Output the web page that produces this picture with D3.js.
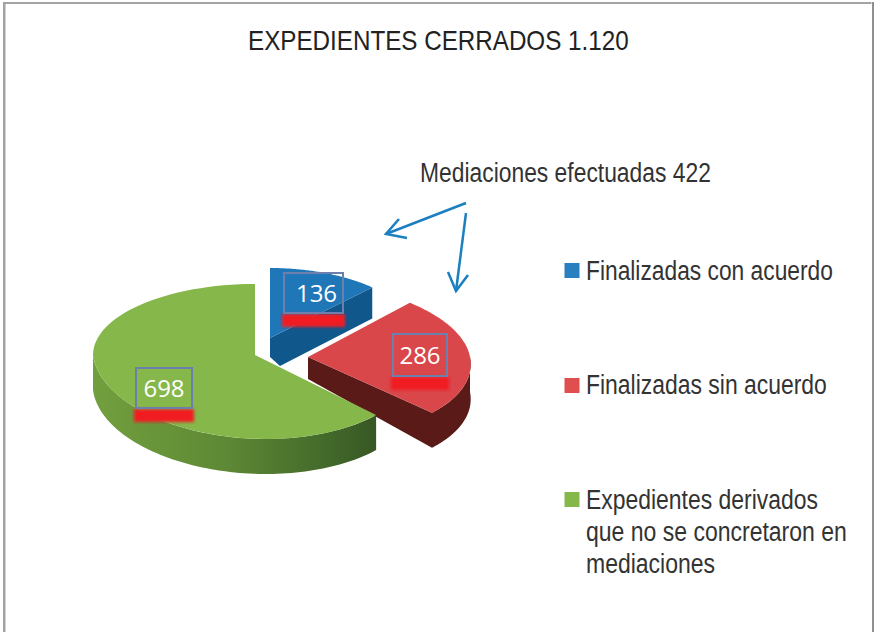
<!DOCTYPE html>
<html><head><meta charset="utf-8">
<script src="https://cdn.jsdelivr.net/npm/d3@7"></script>
<style>html,body{margin:0;padding:0;background:#fff}svg{display:block}</style>
</head><body><svg id="c" width="874" height="632"></svg>
<script>
const categories = ["Finalizadas con acuerdo","Finalizadas sin acuerdo","Expedientes derivados que no se concretaron en mediaciones"];
const values = [136,286,698];
const legendLines = [["Finalizadas con acuerdo"],["Finalizadas sin acuerdo"],["Expedientes derivados","que no se concretaron en","mediaciones"]];
const legendWidths = [[247],[241],[232,261,129]];
const topColors = ["#2077b8","#d9474a","#86b74a"];
const legendColors = ["#2a7fc1","#e04f4f","#86b74a"];
const title = "EXPEDIENTES CERRADOS 1.120";
const note = "Mediaciones efectuadas 422";

const svg = d3.select("#c");
const defs = svg.append("defs");
defs.append("filter").attr("id","glow").attr("x","-20%").attr("y","-80%").attr("width","140%").attr("height","260%")
  .append("feGaussianBlur").attr("stdDeviation",1.8);
const g1 = defs.append("linearGradient").attr("id","greenSide");
[[0,"#729f3e"],[0.45,"#5f8a35"],[0.8,"#456c2b"],[1,"#375724"]].forEach(([o,c])=>g1.append("stop").attr("offset",o).attr("stop-color",c));

const frame = "#a3a3a3";
svg.append("rect").attr("x",3).attr("y",2).attr("width",868.5).attr("height",2).attr("fill",frame);
svg.append("rect").attr("x",3).attr("y",2).attr("width",2.5).attr("height",630).attr("fill",frame);
svg.append("rect").attr("x",872).attr("y",2).attr("width",2).attr("height",630).attr("fill","#8f8f8f");

const pie = d3.pie().sort(null).startAngle(0).endAngle(2*Math.PI);
const arcs = pie(values);

// geometry of each exploded slice: apex, radii (upper / lower half), shear, extrusion depth, apex depth
const geom = [
  {cx:270,cy:338,rx:148,ry:70,ryDown:70,shTop:0,shBot:0,d:31,ad:19},
  {cx:308,cy:357,rx:162,ry:75,ryDown:78,shTop:14,shBot:15,d:35,ad:22},
  {cx:255,cy:355,rx:162,ry:71,ryDown:84,shTop:0,shBot:11,d:35,ad:24}
];
const line = d3.line();
function pt(g,a,dz=0){
  const c=Math.cos(a), s=Math.sin(a);
  return c>=0 ? [g.cx+g.rx*s-g.shTop*c, g.cy-g.ry*c+dz]
              : [g.cx+g.rx*s-g.shBot*c, g.cy-g.ryDown*c+dz];
}
function arcPts(g,a0,a1,dz=0){const n=80;return d3.range(n+1).map(i=>pt(g,a0+(a1-a0)*i/n,dz));}

const sideColors = ["#10578c","#5a1a18","url(#greenSide)"];
[0,1,2].forEach(i=>{
  const g=geom[i],a=arcs[i];
  const G=svg.append("g");
  const apex=[g.cx,g.cy], apexLow=[g.cx,g.cy+g.ad];
  if(i===0){
    const e=pt(g,a.endAngle);
    G.append("path").attr("d",line([apex,e,[e[0],e[1]+g.d],[g.cx+10,g.cy+g.ad+9],apexLow])+"Z").attr("fill",sideColors[i]);
  }
  if(i===1){
    const e=pt(g,a.endAngle);
    G.append("path").attr("d",line([apex,e,[e[0],e[1]+g.d],apexLow])+"Z").attr("fill",sideColors[i]);
    const vis0=Math.PI/2, top=arcPts(g,vis0,a.endAngle), low=arcPts(g,a.endAngle,vis0,g.d);
    G.append("path").attr("d",line(top.concat(low))+"Z").attr("fill",sideColors[i]);
  }
  if(i===2){
    const vis1=1.5*Math.PI, top=arcPts(g,a.startAngle,vis1), low=arcPts(g,vis1,a.startAngle,g.d);
    G.append("path").attr("d",line(top.concat(low))+"Z").attr("fill",sideColors[i]);
  }
  G.append("path").attr("d",line([apex].concat(arcPts(g,a.startAngle,a.endAngle)))+"Z").attr("fill",topColors[i]);
});

// data labels
const labelBoxes = [[283,272,61,41],[392,333,56,43],[135,367,58,41]];
const labelDx = [3,0,0];
const labelBaseline = [301.5,364,397];
values.forEach((v,i)=>{
  const [x,y,w,h]=labelBoxes[i];
  svg.append("rect").attr("x",x-1).attr("y",y+h+1).attr("width",w+2).attr("height",13).attr("fill","#f01e22").attr("filter","url(#glow)");
  svg.append("rect").attr("x",x+1).attr("y",y+1).attr("width",w-2).attr("height",h-1).attr("fill","none")
    .attr("stroke","#6d80ad").attr("stroke-width",2);
  svg.append("text").attr("x",x+w/2+labelDx[i]).attr("y",labelBaseline[i]).attr("text-anchor","middle")
    .attr("font-family","'Open Sans'").attr("font-size",24).attr("fill","#fff").text(v);
});

// condensed text: the sans face squeezed horizontally to the reference's measured width
function squeezed(x,y,size,width,fill,str){
  const t=svg.append("text").attr("font-family","'Liberation Sans'").attr("font-size",size).attr("fill",fill).text(str);
  const k=width/t.node().getComputedTextLength();
  t.attr("transform",`translate(${x},${y}) scale(${k},1)`);
}
squeezed(248,50,27,381,"#222",title);
squeezed(420,182,28,291,"#333",note);

// arrows
const arrows=[[[466,203],[386,234]],[[466,213],[456,291]]];
const heads=[[[399,219],[386,234],[407,238]],[[448,272],[456,291],[468,275]]];
arrows.concat(heads).forEach(p=>svg.append("path").attr("d",line(p)).attr("fill","none")
  .attr("stroke","#1b7fc0").attr("stroke-width",2.5));

// legend
const legendY=[280,393.5,509];
const squareY=[263,378,492];
const lineH=32;
legendLines.forEach((ls,i)=>{
  svg.append("rect").attr("x",564.5).attr("y",squareY[i]).attr("width",15).attr("height",15).attr("fill",legendColors[i]);
  ls.forEach((t,j)=>squeezed(586,legendY[i]+j*lineH,28,legendWidths[i][j],"#333",t));
});
</script></body></html>
